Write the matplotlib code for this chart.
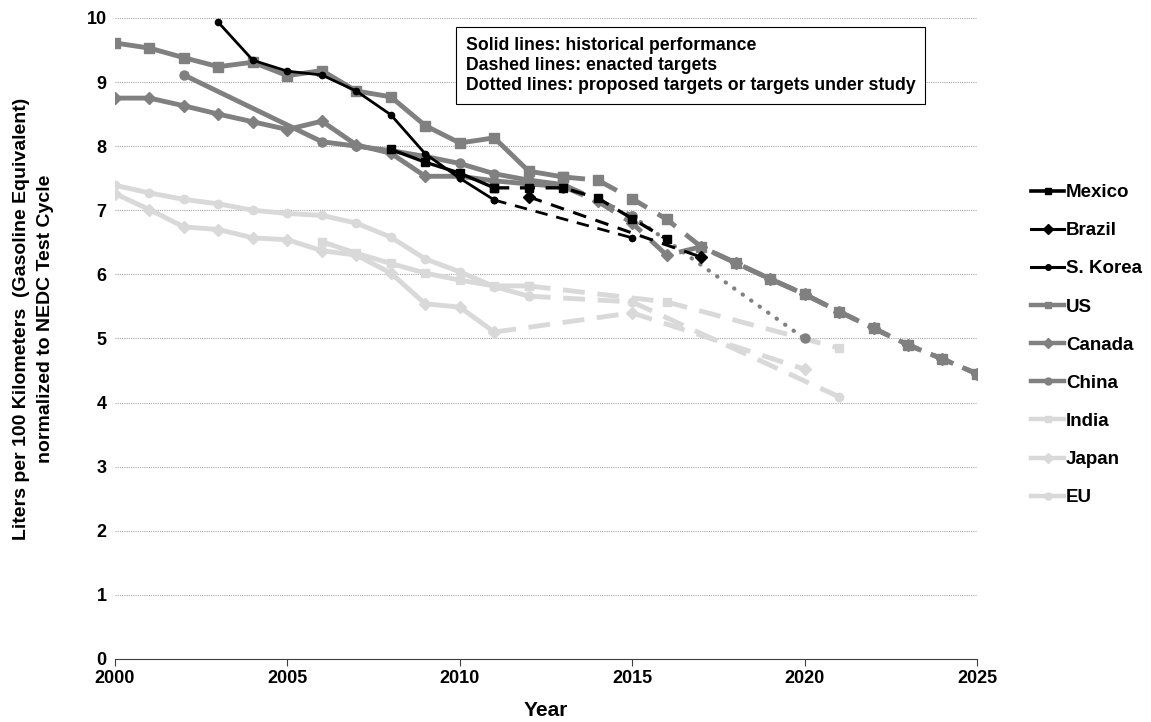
import matplotlib
matplotlib.use("Agg")
import matplotlib.pyplot as plt
from matplotlib.lines import Line2D

plt.rcParams['font.family'] = ['Liberation Sans', 'DejaVu Sans']
plt.rcParams['font.weight'] = 'bold'

# historical fleet averages and targets, L/100 km (NEDC)
mexico_hist_yr = [2008, 2009, 2010, 2011]
mexico_hist = [7.95, 7.75, 7.58, 7.35]
mexico_tgt_yr = [2011, 2012, 2013, 2014, 2015, 2016]
mexico_tgt = [7.35, 7.35, 7.35, 7.19, 6.87, 6.55]

brazil_tgt_yr = [2012, 2017]
brazil_tgt = [7.21, 6.27]

korea_hist_yr = [2003, 2004, 2005, 2006, 2007, 2008, 2009, 2010, 2011]
korea_hist = [9.93, 9.34, 9.17, 9.11, 8.86, 8.49, 7.88, 7.50, 7.16]
korea_tgt_yr = [2011, 2015]
korea_tgt = [7.16, 6.57]

us_hist_yr = list(range(2000, 2014))
us_hist = [9.61, 9.53, 9.38, 9.24, 9.31, 9.10, 9.18, 8.86, 8.77, 8.32,
           8.05, 8.13, 7.61, 7.52]
us_tgt_yr = list(range(2013, 2026))
us_tgt = [7.52, 7.47, 7.18, 6.86, 6.43, 6.18, 5.93, 5.69, 5.42, 5.16,
          4.90, 4.68, 4.45]

canada_hist_yr = list(range(2000, 2014))
canada_hist = [8.75, 8.75, 8.63, 8.50, 8.38, 8.26, 8.39, 8.02, 7.89, 7.53,
               7.53, 7.46, 7.41, 7.37]
canada_tgt_yr = list(range(2013, 2026))
canada_tgt = [7.37, 7.14, 6.80, 6.30, 6.43, 6.18, 5.93, 5.69, 5.42, 5.16,
              4.90, 4.68, 4.45]

china_hist_yr = [2002, 2006, 2007, 2008, 2009, 2010, 2011, 2012, 2013]
china_hist = [9.11, 8.07, 8.00, 7.93, 7.84, 7.73, 7.57, 7.47, 7.40]
china_tgt_yr = [2013, 2015]
china_tgt = [7.40, 6.91]
china_prop_yr = [2015, 2020]
china_prop = [6.91, 5.00]

india_hist_yr = list(range(2006, 2013))
india_hist = [6.51, 6.33, 6.17, 6.02, 5.91, 5.82, 5.82]
india_tgt_yr = [2012, 2016, 2021]
india_tgt = [5.82, 5.57, 4.85]

japan_hist_yr = list(range(2000, 2012))
japan_hist = [7.26, 7.01, 6.74, 6.70, 6.57, 6.54, 6.37, 6.30, 6.02, 5.54,
              5.49, 5.10]
japan_tgt_yr = [2011, 2015, 2020]
japan_tgt = [5.10, 5.40, 4.52]

eu_hist_yr = list(range(2000, 2013))
eu_hist = [7.39, 7.27, 7.17, 7.10, 7.00, 6.95, 6.92, 6.80, 6.58, 6.24,
           6.04, 5.81, 5.66]
eu_tgt_yr = [2012, 2015, 2021]
eu_tgt = [5.66, 5.57, 4.09]

BLACK = '#000000'
GRAY = '#808080'
LIGHT = '#d9d9d9'
dash_g = (0, (4.5, 2.6))
dash_k = (0, (4.5, 3.2))
dots = (0, (0.1, 2.4))

fig = plt.figure(figsize=(11.51, 7.22), dpi=100)
ax = fig.add_axes([0.0999, 0.0873, 0.7489, 0.8878])

def series(x, y, color, marker, ms, lw, ls='-', z=2):
    ax.plot(x, y, color=color, marker=marker, markersize=ms, linewidth=lw,
            linestyle=ls, markeredgecolor=color, zorder=z,
            dash_capstyle='butt' if ls != dots else 'round')

# light grey group
series(india_hist_yr, india_hist, LIGHT, 's', 6, 3.5, z=2)
series(india_tgt_yr, india_tgt, LIGHT, 's', 6, 3.5, dash_g, z=2)
series(japan_hist_yr, japan_hist, LIGHT, 'D', 6, 3.5, z=2)
series(japan_tgt_yr, japan_tgt, LIGHT, 'D', 6, 3.5, dash_g, z=2)
series(eu_hist_yr, eu_hist, LIGHT, 'o', 6, 3.5, z=2)
series(eu_tgt_yr, eu_tgt, LIGHT, 'o', 6, 3.5, dash_g, z=2)

# mid grey group
series(us_hist_yr, us_hist, GRAY, 's', 6.5, 3.5, z=3)
series(us_tgt_yr, us_tgt, GRAY, 's', 6.5, 3.5, dash_g, z=3)
series(canada_hist_yr, canada_hist, GRAY, 'D', 6, 3.5, z=3)
series(canada_tgt_yr, canada_tgt, GRAY, 'D', 6, 3.5, dash_g, z=3)
series(china_hist_yr, china_hist, GRAY, 'o', 6.5, 3.5, z=3)
series(china_tgt_yr, china_tgt, GRAY, 'o', 6.5, 3.5, dash_g, z=3)
series(china_prop_yr, china_prop, GRAY, 'o', 6.5, 3.0, dots, z=3)

# black group
series(mexico_hist_yr, mexico_hist, BLACK, 's', 6, 2.4, z=4)
series(mexico_tgt_yr, mexico_tgt, BLACK, 's', 6, 2.4, dash_k, z=4)
series(brazil_tgt_yr, brazil_tgt, BLACK, 'D', 6, 2.2, dash_k, z=4)
series(korea_hist_yr, korea_hist, BLACK, 'o', 4.5, 2.0, z=4)
series(korea_tgt_yr, korea_tgt, BLACK, 'o', 4.5, 2.0, dash_k, z=4)

ax.set_xlim(2000, 2025)
ax.set_ylim(0, 10)
ax.set_xticks(range(2000, 2026, 5))
ax.set_yticks(range(0, 11))
ax.yaxis.grid(True, linestyle=(0, (1, 1)), color='#a6a6a6', linewidth=0.8)
ax.set_axisbelow(True)
for s in ['top', 'right', 'left']:
    ax.spines[s].set_visible(False)
ax.spines['bottom'].set_color('#404040')
ax.tick_params(axis='y', length=0, pad=6, labelsize=13)
ax.tick_params(axis='x', length=5, direction='out', color='#404040',
               labelsize=13, pad=3)
for lab in ax.get_xticklabels() + ax.get_yticklabels():
    lab.set_fontweight('bold')

ax.set_xlabel('Year', fontsize=15, fontweight='bold', labelpad=10)
ax.set_ylabel('Liters per 100 Kilometers  (Gasoline Equivalent)\n'
              'normalized to NEDC Test Cycle', fontsize=14,
              fontweight='bold', linespacing=1.55)
ax.yaxis.set_label_coords(-0.071, 0.53)

fig.text(0.4049, 0.949,
         'Solid lines: historical performance\n'
         'Dashed lines: enacted targets\n'
         'Dotted lines: proposed targets or targets under study',
         fontsize=12.7, fontweight='bold', va='top', ha='left',
         linespacing=1.235,
         bbox=dict(boxstyle='square,pad=0.55', facecolor='white',
                   edgecolor='black', linewidth=0.8))

names = ['Mexico', 'Brazil', 'S. Korea', 'US', 'Canada', 'China',
         'India', 'Japan', 'EU']
styles = [(BLACK, 's', 5, 2.6), (BLACK, 'D', 5, 2.2), (BLACK, 'o', 4, 2.2),
          (GRAY, 's', 5, 3.2), (GRAY, 'D', 5, 3.2), (GRAY, 'o', 5, 3.2),
          (LIGHT, 's', 5, 3.2), (LIGHT, 'D', 5, 3.2), (LIGHT, 'o', 5, 3.2)]
handles = [Line2D([], [], color=c, marker=m, markersize=ms, linewidth=lw,
                  markeredgecolor=c) for c, m, ms, lw in styles]
fig.legend(handles, names, loc='upper left', bbox_to_anchor=(0.888, 0.758),
           frameon=False, fontsize=13.5, handlelength=1.75,
           handletextpad=0.1, labelspacing=1.12, borderpad=0)

fig.savefig('out.png', dpi=100)
